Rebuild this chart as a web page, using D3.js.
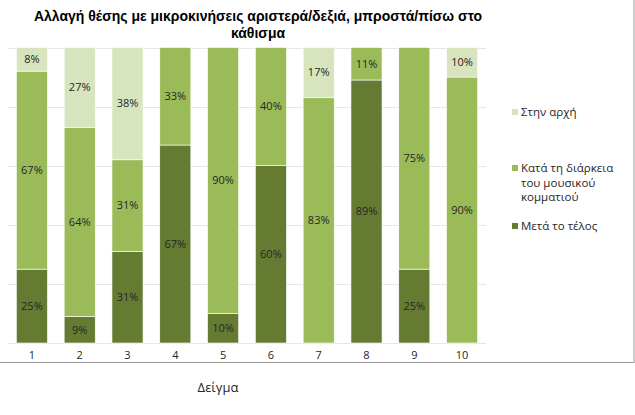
<!DOCTYPE html>
<html>
<head>
<meta charset="utf-8">
<script src="https://cdn.jsdelivr.net/npm/d3@7"></script>
<style>
  html, body { margin: 0; padding: 0; background: #fff; }
  svg { display: block; }
</style>
</head>
<body>
<svg id="chart" width="635" height="415"></svg>
<script>
const categories = ["1", "2", "3", "4", "5", "6", "7", "8", "9", "10"];
const seriesNames = ["Μετά το τέλος", "Κατά τη διάρκεια του μουσικού κομματιού", "Στην αρχή"];
const afterEnd = [25, 9, 31, 67, 10, 60, 0, 89, 25, 0];
const during   = [67, 64, 31, 33, 90, 40, 83, 11, 75, 90];
const atStart  = [8, 27, 38, 0, 0, 0, 17, 0, 0, 10];
const colors = ["#657B32", "#9BBB59", "#D7E4BD"];
const yTicks = [0, 20, 40, 60, 80, 100];
const titleLines = ["Αλλαγή θέσης με μικροκινήσεις αριστερά/δεξιά, μπροστά/πίσω στο", "κάθισμα"];
const xTitle = "Δείγμα";
const legendOrder = [2, 1, 0];
const legendLines = [["Στην αρχή"], ["Κατά τη διάρκεια", "του μουσικού", "κομματιού"], ["Μετά το τέλος"]];

const font = "'Open Sans', 'DejaVu Sans', sans-serif";
const svg = d3.select("#chart");

const rows = categories.map((c, i) => ({cat: c, s0: afterEnd[i], s1: during[i], s2: atStart[i]}));
const keys = ["s0", "s1", "s2"];
const stacked = d3.stack().keys(keys)(rows);

const x = d3.scaleBand().domain(categories).range([8, 486]).paddingInner(0.35).paddingOuter(0.175);
const y = d3.scaleLinear().domain([0, 100]).range([343, 47.5]);

// frame
svg.append("rect").attr("x", -1).attr("y", -1).attr("width", 635).attr("height", 363.5)
  .attr("fill", "none").attr("stroke", "#9a9a9a").attr("stroke-width", 1);

// gridlines
svg.append("g").selectAll("line").data(yTicks).join("line")
  .attr("x1", 8).attr("x2", 486)
  .attr("y1", d => Math.round(y(d)) + 0.5).attr("y2", d => Math.round(y(d)) + 0.5)
  .attr("stroke", "#e6e6e6").attr("stroke-width", 1.2);

// bars
const layers = svg.append("g").selectAll("g").data(stacked).join("g")
  .attr("fill", (d, i) => colors[i]);
layers.selectAll("rect").data(d => d.filter(s => s[1] - s[0] > 0)).join("rect")
  .attr("x", d => x(d.data.cat))
  .attr("width", x.bandwidth())
  .attr("y", d => y(d[1]))
  .attr("height", d => y(d[0]) - y(d[1]))
  .attr("stroke", "#ffffff").attr("stroke-width", 0.6);

// data labels
stacked.forEach((layer) => {
  svg.append("g").selectAll("text").data(layer.filter(d => d[1] - d[0] > 0)).join("text")
    .attr("x", d => x(d.data.cat) + x.bandwidth() / 2)
    .attr("y", d => (y(d[0]) + y(d[1])) / 2)
    .attr("dy", "0.35em")
    .attr("text-anchor", "middle")
    .attr("font-family", font).attr("font-size", 11).attr("fill", "#262626")
    .text(d => (d[1] - d[0]) + "%");
});

// x axis
const xAxis = d3.axisBottom(x).tickSize(0).tickPadding(0);
const gx = svg.append("g").attr("transform", "translate(0,352)").call(xAxis);
gx.select(".domain").remove();
gx.selectAll("text").attr("font-family", font).attr("font-size", 11).attr("fill", "#262626")
  .attr("dy", "0.6em");

// x title
svg.append("text").attr("x", 218).attr("y", 387).attr("dy", "0.35em")
  .attr("text-anchor", "middle").attr("font-family", font).attr("font-size", 13).attr("fill", "#262626")
  .text(xTitle);

// title
svg.append("g").selectAll("text").data(titleLines).join("text")
  .attr("x", 258).attr("y", (d, i) => 16 + i * 17).attr("dy", "0.35em")
  .attr("text-anchor", "middle").attr("font-family", "'Liberation Sans', Arial, sans-serif")
  .attr("font-weight", "bold").attr("font-size", 14).attr("fill", "#000")
  .text(d => d);

// legend
const legendY = [112, 168, 226];
const lg = svg.append("g");
legendOrder.forEach((si, k) => {
  lg.append("rect").attr("x", 512).attr("y", legendY[k] - 3).attr("width", 6).attr("height", 6)
    .attr("fill", colors[si]);
  lg.append("text").attr("x", 521).attr("y", legendY[k])
    .attr("font-family", font).attr("font-size", 11.5).attr("fill", "#262626")
    .selectAll("tspan").data(legendLines[k]).join("tspan")
    .attr("x", 521).attr("dy", (d, j) => j === 0 ? "0.35em" : "1.27em")
    .text(d => d);
});
</script>
</body>
</html>
